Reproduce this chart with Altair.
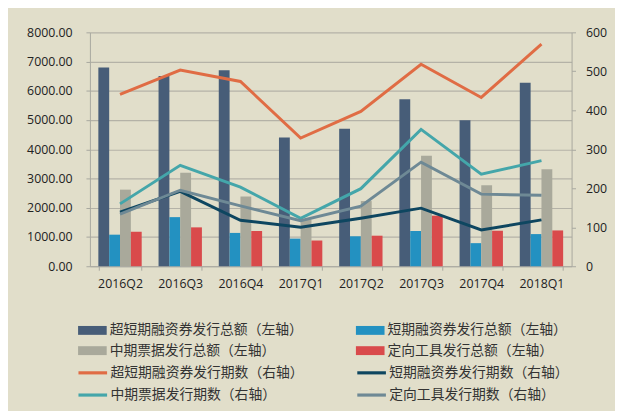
import altair as alt
import pandas as pd

quarters = ["2016Q2", "2016Q3", "2016Q4", "2017Q1", "2017Q2", "2017Q3", "2017Q4", "2018Q1"]

bar_series = ["超短期融资券发行总额（左轴）", "短期融资券发行总额（左轴）",
              "中期票据发行总额（左轴）", "定向工具发行总额（左轴）"]
scp_amt = [6800, 6510, 6700, 4400, 4700, 5715, 4995, 6275]
cp_amt = [1080, 1680, 1140, 945, 1025, 1205, 790, 1100]
mtn_amt = [2620, 3195, 2385, 1600, 2230, 3780, 2770, 3320]
ppn_amt = [1180, 1330, 1205, 880, 1045, 1730, 1215, 1225]
bar_colors = ["#475D78", "#2391C1", "#A9A99B", "#D94A4B"]

line_series = ["超短期融资券发行期数（右轴）", "短期融资券发行期数（右轴）",
               "中期票据发行期数（右轴）", "定向工具发行期数（右轴）"]
scp_cnt = [441, 503, 474, 329, 397, 518, 433, 570]
cp_cnt = [139, 192, 118, 100, 123, 149, 93, 119]
mtn_cnt = [160, 259, 203, 123, 199, 351, 236, 271]
ppn_cnt = [134, 195, 155, 117, 154, 267, 185, 182]
line_colors = ["#E06C44", "#0E4660", "#44A6AA", "#6E8995"]

bar_values = [scp_amt, cp_amt, mtn_amt, ppn_amt]
line_values = [scp_cnt, cp_cnt, mtn_cnt, ppn_cnt]

bars_df = pd.DataFrame([
    {"quarter": q, "series": s, "value": v, "order": i}
    for i, (s, vals) in enumerate(zip(bar_series, bar_values))
    for q, v in zip(quarters, vals)
])
lines_df = pd.DataFrame([
    {"quarter": q, "series": s, "value": v, "order": i}
    for i, (s, vals) in enumerate(zip(line_series, line_values))
    for q, v in zip(quarters, vals)
])

# legend fills column-first with 2 columns: interleave so rows read 1-2 / 3-4
leg_idx = [0, 2, 1, 3]
bar_dom = [bar_series[i] for i in leg_idx]
bar_rng = [bar_colors[i] for i in leg_idx]
line_dom = [line_series[i] for i in leg_idx]
line_rng = [line_colors[i] for i in leg_idx]

AX_FONT = "Open Sans"
LEG_FONT = "Noto Sans CJK SC"
GRID = "#B4B2A7"
DOMAIN = "#A8A8A0"

x_enc = alt.X(
    "quarter:N", sort=quarters,
    scale=alt.Scale(paddingInner=0.28, paddingOuter=0.14),
    axis=alt.Axis(title=None, labelAngle=0, tickBand="extent", tickSize=4,
                  labelPadding=8, labelFont=AX_FONT, labelFontSize=12.5,
                  labelColor="#222", domainColor=DOMAIN, tickColor=DOMAIN),
)

leg_common = dict(title=None, orient="none", columns=2,
                  rowPadding=5.5, symbolSize=256, labelFont=LEG_FONT, labelFontSize=14,
                  labelColor="#333", labelLimit=400, padding=0)

bars = alt.Chart(bars_df).mark_bar().encode(
    x=x_enc,
    xOffset=alt.XOffset("series:N", sort=bar_series,
                        scale=alt.Scale(paddingInner=0, paddingOuter=0)),
    y=alt.Y("value:Q", scale=alt.Scale(domain=[0, 8000], nice=False),
            axis=alt.Axis(title=None, format=".2f", values=list(range(0, 8001, 1000)),
                          grid=True, gridColor=GRID, gridWidth=1.2, tickSize=4,
                          labelPadding=14, labelFont=AX_FONT, labelFontSize=12.5,
                          labelColor="#222", domainColor=DOMAIN, tickColor=DOMAIN)),
    fill=alt.Fill("series:N",
                  scale=alt.Scale(domain=bar_dom, range=bar_rng),
                  legend=alt.Legend(legendX=-5.5, legendY=294, labelOffset=9.5,
                                    columnPadding=52.5,
                                    symbolType="M-1.8125,-0.5625H1.8125V0.5625H-1.8125Z",
                                    symbolStrokeWidth=0, **leg_common)),
)

lines = alt.Chart(lines_df).mark_line(strokeWidth=3).encode(
    x=x_enc,
    y=alt.Y("value:Q", scale=alt.Scale(domain=[0, 600], nice=False),
            axis=alt.Axis(title=None, orient="right", values=list(range(0, 601, 100)),
                          grid=False, tickSize=4, labelPadding=10, labelFont=AX_FONT,
                          labelFontSize=12.5, labelColor="#222", domainColor=DOMAIN,
                          tickColor=DOMAIN)),
    stroke=alt.Stroke("series:N",
                      scale=alt.Scale(domain=line_dom, range=line_rng),
                      legend=alt.Legend(legendX=-7.1, legendY=335, labelOffset=7.9,
                                        columnPadding=47.5,
                                        symbolType="M-1.8125,0H1.8125",
                                        symbolStrokeWidth=3.2, **leg_common)),
    order=alt.Order("order:Q"),
)

chart = alt.layer(bars, lines).resolve_scale(y="independent").properties(
    width=488, height=237,
    autosize=alt.AutoSizeParams(type="none"),
    padding={"left": 83, "top": 22, "right": 44, "bottom": 144},
    background="#E1DECA",
).configure_view(stroke=None)

chart.save("out.html", embed_options={"renderer": "svg", "actions": False})
